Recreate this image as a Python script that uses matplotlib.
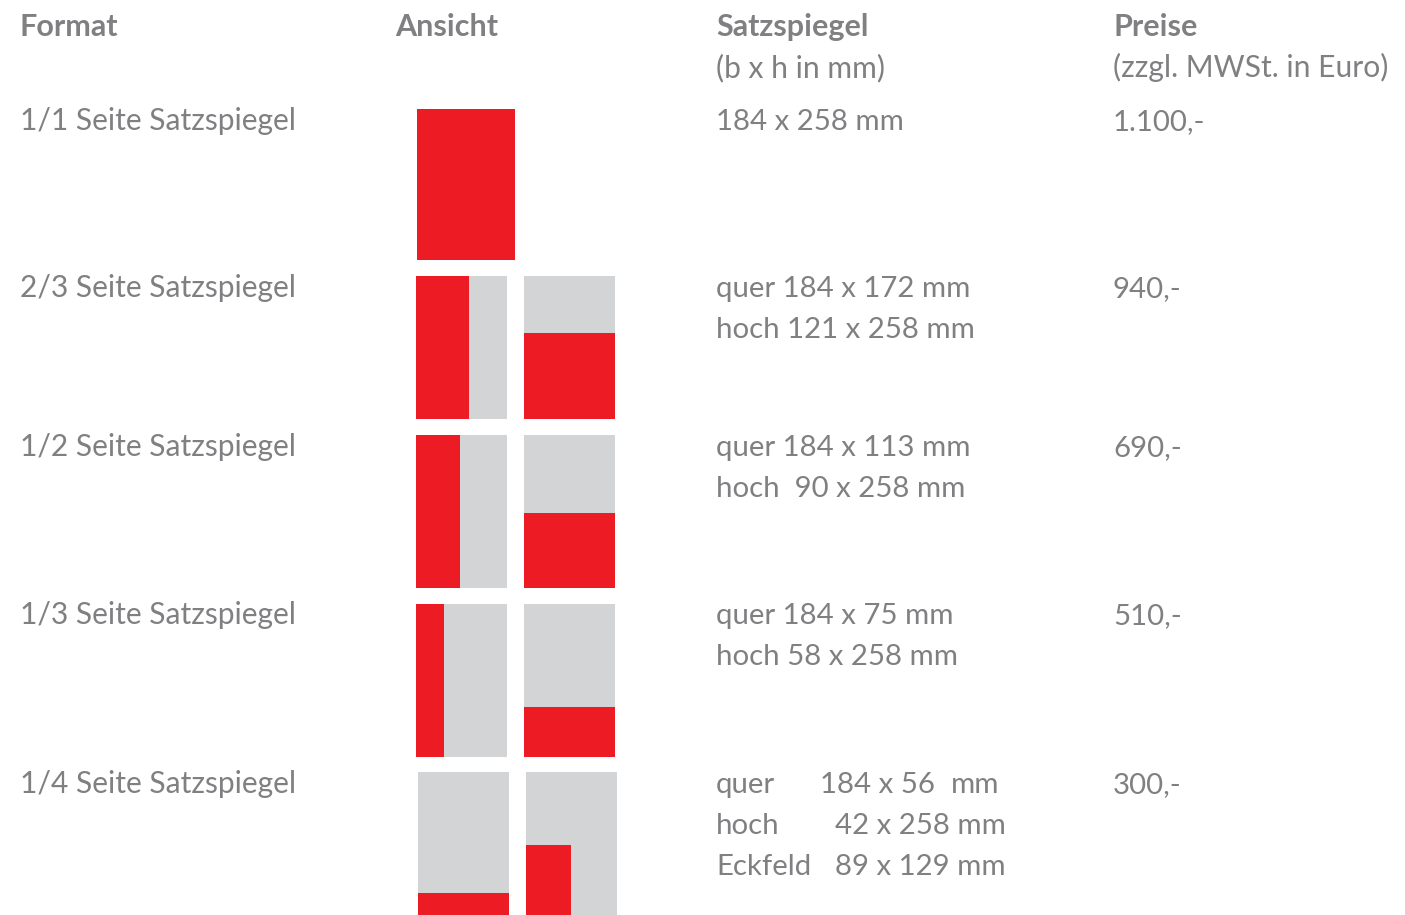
import matplotlib.pyplot as plt
from matplotlib.patches import Rectangle

plt.rcParams['font.family'] = ['Lato', 'DejaVu Sans']

RED = '#ed1c24'
GREY = '#d3d4d6'
TXT = '#808083'

headers = ['Format', 'Ansicht', 'Satzspiegel', 'Preise']
subheaders = ['', '', '(b x h in mm)', '(zzgl. MWSt. in Euro)']
formats = ['1/1 Seite Satzspiegel', '2/3 Seite Satzspiegel', '1/2 Seite Satzspiegel',
           '1/3 Seite Satzspiegel', '1/4 Seite Satzspiegel']
sizes = [['184 x 258 mm'],
         ['quer 184 x 172 mm', 'hoch 121 x 258 mm'],
         ['quer 184 x 113 mm', 'hoch  90 x 258 mm'],
         ['quer 184 x 75 mm', 'hoch 58 x 258 mm'],
         None]
quarter_labels = ['quer', 'hoch', 'Eckfeld']
quarter_dims = ['184 x 56', '42 x 258 mm', '89 x 129 mm']
prices = ['1.100,-', '940,-', '690,-', '510,-', '300,-']

# red share of the page in the small previews
hoch_frac = [1.0, 0.58, 0.48, 0.31]
quer_frac = [1.0, 0.60, 0.49, 0.33]
quarter_quer = 0.21
eck_w, eck_h = 0.49, 0.52

row_y = [130, 297, 456, 624, 793]   # baselines of first text line
box_top = [109, 276, 435, 604, 772]

fig = plt.figure(figsize=(14.05, 9.15), dpi=100)
ax = fig.add_axes([0, 0, 1, 1])
ax.set_xlim(0, 1405)
ax.set_ylim(915, 0)
ax.axis('off')

fs = 21.2
col_x = [20, 395, 716, 1113]
for x, h, s in zip(col_x, headers, subheaders):
    ax.text(x, 36, h, fontsize=22, fontweight='bold', color=TXT, va='baseline')
    if s:
        ax.text(x, 77, s, fontsize=21.6, color=TXT, va='baseline')

for i, (f, p) in enumerate(zip(formats, prices)):
    y = row_y[i]
    ax.text(20, y, f, fontsize=21.6, color=TXT, va='baseline')
    ax.text(1113, y, p, fontsize=fs, color=TXT, va='baseline')
    if sizes[i] is not None:
        for j, s in enumerate(sizes[i]):
            ax.text(716, y + 41 * j, s, fontsize=fs, color=TXT, va='baseline')

# quarter page: column-aligned lines
y = row_y[4]
for j, lab in enumerate(quarter_labels):
    ax.text(716, y + 41 * j, lab, fontsize=fs, color=TXT, va='baseline')
ax.text(820, y, quarter_dims[0], fontsize=fs, color=TXT, va='baseline')
ax.text(951, y, 'mm', fontsize=fs, color=TXT, va='baseline')
for j in (1, 2):
    ax.text(835, y + 41 * j, quarter_dims[j], fontsize=fs, color=TXT, va='baseline')

W, H = 91, 153

def page(x0, y0, w, h):
    ax.add_patch(Rectangle((x0, y0), w, h, color=GREY, lw=0))

def red(x0, y0, w, h):
    ax.add_patch(Rectangle((x0, y0), w, h, color=RED, lw=0))

# full page
red(417, box_top[0], 98, 151)
# 2/3, 1/2, 1/3
for i in (1, 2, 3):
    t = box_top[i]
    hgt = 143 if i == 1 else H
    page(416, t, W, hgt)
    red(416, t, W * hoch_frac[i], hgt)
    page(524, t, W, hgt)
    red(524, t + hgt * (1 - quer_frac[i]), W, hgt * quer_frac[i])
# 1/4
t = box_top[4]
page(418, t, W, H)
red(418, t + H * (1 - quarter_quer), W, H * quarter_quer)
page(526, t, W, H)
red(526, t + H * (1 - eck_h), W * eck_w, H * eck_h)

fig.savefig('out.png', dpi=100)
